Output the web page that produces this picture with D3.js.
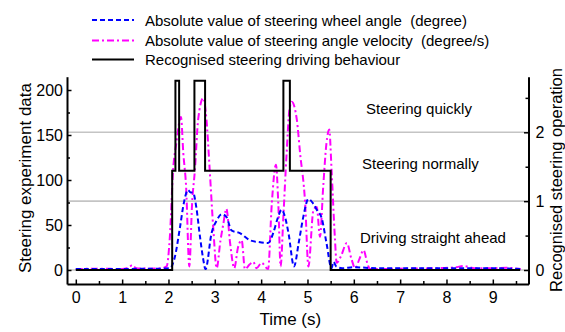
<!DOCTYPE html>
<html><head><meta charset="utf-8">
<script src="https://cdn.jsdelivr.net/npm/d3@7"></script>
<style>
body{margin:0;background:#fff;}
svg{display:block;font-family:"Liberation Sans",Arial,sans-serif;}
</style></head><body>
<svg id="c" width="565" height="332"></svg>
<script>
// ---- data ----
const angleTime  = [0,0.5,1.0,1.45,1.8,2.03,2.14,2.25,2.33,2.42,2.48,2.53,2.60,2.68,2.75,2.80,2.93,3.04,3.15,3.25,3.36,3.54,3.76,3.95,4.15,4.26,4.36,4.44,4.52,4.59,4.71,4.81,4.91,5.02,5.12,5.20,5.31,5.41,5.52,5.56,5.62,5.75,6.0,6.5,7.0,8.0,9.0,9.6];
const angleValue = [1,1,1,1.5,1.5,2,15,48,74,89,86,86,70,37,12,1,41,55,62,59,44,41,33,31,30,41,58,67,58,41,4,30,59,79,74,67,57,30,2,9,4,2,3,2,2,2,2,1];

const velTime  = [0,0.5,1.0,1.15,1.22,1.3,1.6,1.85,1.96,2.03,2.10,2.17,2.27,2.32,2.38,2.45,2.51,2.57,2.64,2.75,2.82,2.89,2.97,3.04,3.12,3.18,3.25,3.33,3.42,3.50,3.58,3.65,3.75,3.83,3.90,4.01,4.15,4.23,4.32,4.37,4.42,4.48,4.55,4.61,4.66,4.77,4.84,4.95,5.02,5.13,5.20,5.27,5.34,5.41,5.47,5.52,5.59,5.63,5.72,5.85,5.95,6.03,6.12,6.21,6.30,6.35,7.0,7.8,8.2,8.37,8.6,9.0,9.3,9.6];
const velValue = [1,1.5,1,3,5.5,2,1.5,2,4,37,111,141,170,130,93,4,74,111,167,191,167,111,44,2,32,50,68,30,2,25,33,1,6,9,2,8,1,74,117,74,4,60,130,178,187,167,130,74,4,67,70,37,93,141,156,111,37,8,15,30,12,2,12,22,6,1,1.5,2,3,4.5,2,2,2.5,1];

const behaviourTime  = [0,2.08,2.15,2.23,2.56,2.79,4.48,4.62,5.50,9.59];
const behaviourLevel = [0,1.44,2.75,1.44,2.75,1.44,2.75,1.44,0,0];

const leftTicks = [0,50,100,150,200];
const leftMinor = [25,75,125,175];
const rightTicks = [0,1,2];
const rightMinor = [0.5,1.5,2.5];
const xTicks = [0,1,2,3,4,5,6,7,8,9];
const xMinor = [0.5,1.5,2.5,3.5,4.5,5.5,6.5,7.5,8.5,9.5];
const gridLevels = [0,1,2];

const regionLabels = ["Steering quickly","Steering normally","Driving straight ahead"];
const legendLabels = ["Absolute value of steering wheel angle\u00a0 (degree)",
                      "Absolute value of steering angle velocity\u00a0 (degree/s)",
                      "Recognised steering driving behaviour"];

// ---- layout ----
const L=67, R=528.5, B=284, T=76.7;
const x = d3.scaleLinear().domain([-0.19, 9.77]).range([L, R]);
const yL = d3.scaleLinear().domain([(270-B)/0.9, (270-T)/0.9]).range([B, T]);
const yR = d3.scaleLinear().domain([(270-B)/68.85, (270-T)/68.85]).range([B, T]);

const svg = d3.select("#c");

// grid
svg.append("g").selectAll("line").data(gridLevels).join("line")
  .attr("x1", L).attr("x2", R).attr("y1", d=>yR(d)).attr("y2", d=>yR(d))
  .attr("stroke", "#c4c4c4").attr("stroke-width", 1.6);

// lines
const blueLine = d3.line().x((d,i)=>x(angleTime[i])).y(d=>yL(d)).curve(d3.curveMonotoneX);
const magLine = d3.line().x((d,i)=>x(velTime[i])).y(d=>yL(d)).curve(d3.curveMonotoneX);
const blackLine = d3.line().x((d,i)=>x(behaviourTime[i])).y(d=>yR(d)).curve(d3.curveStepAfter);

svg.append("path").attr("d", magLine(velValue)).attr("fill","none")
  .attr("stroke","#ff00ff").attr("stroke-width",2).attr("stroke-dasharray","7,3,2,3");
svg.append("path").attr("d", blueLine(angleValue)).attr("fill","none")
  .attr("stroke","#0000ff").attr("stroke-width",2).attr("stroke-dasharray","5,3");
svg.append("path").attr("d", blackLine(behaviourLevel)).attr("fill","none")
  .attr("stroke","#000").attr("stroke-width",2);

// axes
function styleAxis(g){
  g.select(".domain").attr("stroke","#000").attr("stroke-width",2);
  g.selectAll(".tick line").attr("stroke","#000").attr("stroke-width",1.5);
  g.selectAll(".tick text").attr("fill","#000").attr("font-size",16)
    .attr("font-family","Liberation Sans, Arial, sans-serif");
}
const fmt = d3.format("d");
const gl = svg.append("g").attr("transform",`translate(${L},0)`)
  .call(d3.axisLeft(yL).tickValues(leftTicks).tickFormat(fmt).tickSizeInner(-4.5).tickSizeOuter(0).tickPadding(4));
styleAxis(gl);
const glm = svg.append("g").attr("transform",`translate(${L},0)`)
  .call(d3.axisLeft(yL).tickValues(leftMinor).tickSizeInner(-3).tickSizeOuter(0).tickFormat(""));
styleAxis(glm); glm.select(".domain").remove();

const gr = svg.append("g").attr("transform",`translate(${R},0)`)
  .call(d3.axisRight(yR).tickValues(rightTicks).tickFormat(fmt).tickSizeInner(-4.5).tickSizeOuter(0).tickPadding(7));
styleAxis(gr);
const grm = svg.append("g").attr("transform",`translate(${R},0)`)
  .call(d3.axisRight(yR).tickValues(rightMinor).tickSizeInner(-3).tickSizeOuter(0).tickFormat(""));
styleAxis(grm); grm.select(".domain").remove();

const gb = svg.append("g").attr("transform",`translate(0,${B})`)
  .call(d3.axisBottom(x).tickValues(xTicks).tickFormat(fmt).tickSizeInner(-4.5).tickSizeOuter(0).tickPadding(8));
styleAxis(gb);
gb.selectAll(".tick text").attr("dy","0.71em");
const gbm = svg.append("g").attr("transform",`translate(0,${B})`)
  .call(d3.axisBottom(x).tickValues(xMinor).tickSizeInner(-3).tickSizeOuter(0).tickFormat(""));
styleAxis(gbm); gbm.select(".domain").remove();

// axis titles
svg.append("text").attr("transform","translate(31,178) rotate(-90)")
  .attr("text-anchor","middle").attr("font-size",17).text("Steering experiment data");
svg.append("text").attr("transform","translate(562,180) rotate(-90)")
  .attr("text-anchor","middle").attr("font-size",16.5).text("Recognised steering operation");
svg.append("text").attr("x", x(4.63)).attr("y", 325)
  .attr("text-anchor","middle").attr("font-size",17).text("Time (s)");

// region labels
const regionPos = [[366,114],[362,169],[360,243]];
svg.append("g").selectAll("text").data(regionLabels).join("text")
  .attr("x",(d,i)=>regionPos[i][0]).attr("y",(d,i)=>regionPos[i][1])
  .attr("font-size",15).text(d=>d);

// legend
const lg = svg.append("g");
const legendStyles = [
  {c:"#0000ff", dash:"5,3"},
  {c:"#ff00ff", dash:"7,3,2,3"},
  {c:"#000", dash:null}
];
const rowY = [20,40.5,59.5];
legendLabels.forEach((t,i)=>{
  lg.append("line").attr("x1",92).attr("x2",134).attr("y1",rowY[i]).attr("y2",rowY[i])
    .attr("stroke",legendStyles[i].c).attr("stroke-width",2)
    .attr("stroke-dasharray",legendStyles[i].dash);
  lg.append("text").attr("x",145).attr("y",rowY[i]+5.5).attr("font-size",15).text(t);
});
</script>
</body></html>
